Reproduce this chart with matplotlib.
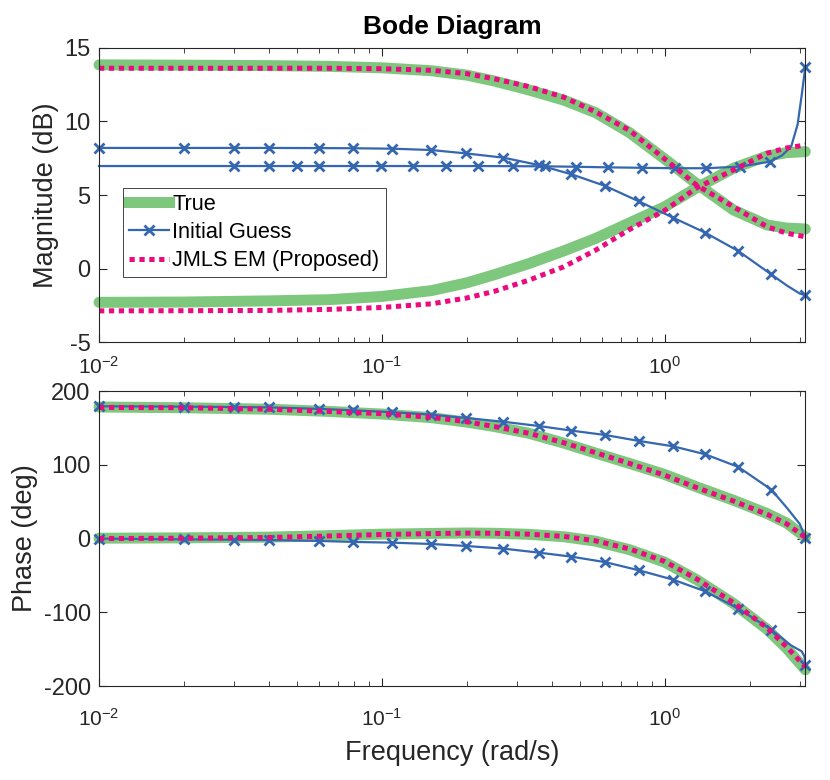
import numpy as np
import matplotlib
matplotlib.use("Agg")
import matplotlib.pyplot as plt
from matplotlib.lines import Line2D

plt.rcParams['font.family'] = ['Liberation Sans', 'DejaVu Sans']
plt.rcParams['mathtext.fontset'] = 'custom'
plt.rcParams['mathtext.rm'] = 'Liberation Sans'
plt.rcParams['mathtext.default'] = 'regular'
plt.rcParams['axes.unicode_minus'] = False

# ---- data ----
# smooth curves (True system and JMLS EM estimate)
w_fit = [0.01, 0.02, 0.04, 0.065, 0.1, 0.15, 0.2, 0.25, 0.33, 0.44, 0.57,
         0.75, 1.0, 1.3, 1.75, 2.3, 2.7, 3.1416]
mag_true_a = [13.85, 13.83, 13.8, 13.75, 13.65, 13.45, 13.15, 12.75, 12.15, 11.45, 10.6,
              9.25, 7.45, 5.75, 3.98, 2.96, 2.75, 2.69]
mag_true_b = [-2.3, -2.28, -2.2, -2.12, -1.9, -1.5, -0.97, -0.42, 0.33, 1.2, 2.05,
              3.1, 4.2, 5.5, 6.82, 7.65, 7.88, 7.95]
mag_em_a = [13.62, 13.62, 13.62, 13.62, 13.59, 13.48, 13.25, 12.9, 12.38, 11.65, 10.65,
            9.4, 7.45, 5.65, 4.2, 2.84, 2.4, 2.16]
mag_em_b = [-2.88, -2.87, -2.85, -2.78, -2.65, -2.4, -2.0, -1.55, -0.8, 0.12, 1.25,
            2.65, 3.95, 5.5, 6.7, 7.84, 8.2, 8.4]
ph_true_a = [178.5, 177.5, 175.5, 172.5, 169, 164, 158, 152, 143, 129.5, 116,
             102, 87, 70, 52, 34, 21, 2]
ph_true_b = [0.5, 1, 2, 4, 6, 7, 7.6, 7.2, 5.8, 2.5, -3.5,
             -15, -32, -56, -88, -123, -149, -178]
ph_em_a = [178, 177.5, 175.5, 172.5, 169.5, 164.5, 158.5, 152, 143, 130, 116.5,
           102, 86, 69, 51, 33, 20, 1.5]
ph_em_b = [0, 0.5, 1.5, 3.5, 5.5, 6.8, 7.4, 7.2, 6, 3, -3,
           -14, -31, -55, -87, -121, -147, -174]

# initial guess, first model
w_ig1 = [0.01, 0.02, 0.03, 0.04, 0.06, 0.079, 0.109, 0.149, 0.198, 0.269, 0.358,
         0.468, 0.617, 0.81, 1.07, 1.39, 1.82, 2.38, 2.7, 3.0, 3.1416]
mag_ig1 = [8.2, 8.2, 8.2, 8.2, 8.19, 8.18, 8.15, 8.06, 7.83, 7.54, 7.04,
           6.41, 5.61, 4.57, 3.46, 2.44, 1.19, -0.4, -1.15, -1.7, -1.82]
ph_ig1 = [179.5, 179, 178.5, 178, 176, 174, 171.5, 168.2, 163.7, 158.5, 152.8,
          146.5, 140.5, 132.5, 125.2, 114.4, 97.2, 66.5, 42, 20, 1.3]
ig1_marks = [0, 1, 2, 3, 4, 5, 6, 7, 8, 9, 10, 11, 12, 13, 14, 15, 16, 17, 20]

# initial guess, second model
w_ig2 = [0.01, 0.02, 0.03, 0.04, 0.05, 0.06, 0.079, 0.099, 0.129, 0.169, 0.219,
         0.29, 0.378, 0.487, 0.632, 0.83, 1.09, 1.40, 1.84, 2.36, 2.6, 2.8,
         2.95, 3.05, 3.1416]
mag_ig2 = [6.97, 6.97, 6.97, 6.97, 6.97, 6.97, 6.97, 6.97, 6.97, 6.97, 6.97,
           6.96, 6.95, 6.92, 6.88, 6.85, 6.82, 6.82, 6.93, 7.27, 7.7, 8.3,
           9.8, 11.8, 13.73]
ig2_marks = [2, 3, 4, 5, 6, 7, 8, 9, 10, 11, 12, 13, 14, 15, 16, 17, 18, 19, 24]

w_ig3 = [0.01, 0.02, 0.03, 0.04, 0.06, 0.079, 0.109, 0.149, 0.198, 0.269, 0.358,
         0.468, 0.617, 0.81, 1.07, 1.39, 1.82, 2.38, 2.8, 3.05, 3.12, 3.1416]
ph_ig3 = [0, -1, -1.5, -2, -3.2, -4.5, -5.5, -7.3, -10, -13.6, -19,
          -24.5, -32, -43, -55.7, -71.5, -95, -123.5, -145, -153, -160, -172]
ig3_marks = [0, 1, 2, 3, 4, 5, 6, 7, 8, 9, 10, 11, 12, 13, 14, 15, 16, 17, 21]

green = '#7EC87E'
blue = '#3567B0'
pink = '#EC0A80'
dark = '#262626'

fig = plt.figure(figsize=(8.3, 7.8), dpi=100)
ax1 = fig.add_axes([0.1193, 0.5615, 0.851, 0.377])
ax2 = fig.add_axes([0.1193, 0.1205, 0.851, 0.378])

true_kw = dict(color=green, lw=7.9, solid_capstyle='round', clip_on=False)
ig_kw = dict(color=blue, lw=1.6, marker='x', ms=7, mew=2.0, clip_on=False)
em_kw = dict(color=pink, lw=3.6, ls=(0, (1.05, 0.93)), clip_on=False)

# magnitude
ax1.plot(w_fit, mag_true_a, **true_kw)
ax1.plot(w_fit, mag_true_b, **true_kw)
ax1.plot(w_ig1, mag_ig1, markevery=ig1_marks, **ig_kw)
ax1.plot(w_ig2, mag_ig2, markevery=ig2_marks, **ig_kw)
ax1.plot(w_fit, mag_em_a, **em_kw)
ax1.plot(w_fit, mag_em_b, **em_kw)

# phase
ax2.plot(w_fit, ph_true_a, **true_kw)
ax2.plot(w_fit, ph_true_b, **true_kw)
ax2.plot(w_ig1, ph_ig1, markevery=ig1_marks, **ig_kw)
ax2.plot(w_ig3, ph_ig3, markevery=ig3_marks, **ig_kw)
ax2.plot(w_fit, ph_em_a, **em_kw)
ax2.plot(w_fit, ph_em_b, **em_kw)

for ax in (ax1, ax2):
    ax.set_xscale('log')
    ax.set_xlim(0.01, np.pi)
    ax.tick_params(which='both', direction='in', top=True, right=True,
                   colors=dark, pad=6)
    ax.tick_params(axis='x', labelsize=15)
    ax.tick_params(axis='y', labelsize=17)
    ax.tick_params(which='major', length=6, width=0.8)
    ax.tick_params(which='minor', length=3.5, width=0.6)
    for s in ax.spines.values():
        s.set_color(dark)
        s.set_linewidth(0.8)

ax1.tick_params(axis='x', which='both', pad=10)
ax2.tick_params(axis='x', which='both', pad=16)

ax1.set_ylim(-5, 15)
ax1.set_yticks([-5, 0, 5, 10, 15])
ax2.set_ylim(-200, 200)
ax2.set_yticks([-200, -100, 0, 100, 200])

ax1.set_ylabel('Magnitude (dB)', fontsize=19.5, color=dark, labelpad=4)
ax2.set_ylabel('Phase (deg)', fontsize=19.5, color=dark, labelpad=4)
ax2.set_xlabel('Frequency (rad/s)', fontsize=19.5, color=dark, labelpad=7)
ax1.set_title('Bode Diagram', fontsize=19, fontweight='bold', pad=10)

handles = [Line2D([], [], color=green, lw=7.9),
           Line2D([], [], color=blue, lw=1.6, marker='x', ms=7, mew=2.0),
           Line2D([], [], color=pink, lw=3.6, ls=(0, (1.05, 0.93)))]
leg = ax1.legend(handles, ['True', 'Initial Guess', 'JMLS EM (Proposed)'],
                 loc='upper left', bbox_to_anchor=(0.0335, 0.525),
                 fontsize=15.7, frameon=True, fancybox=False, framealpha=1,
                 edgecolor=dark, handlelength=1.85, handletextpad=0.15,
                 labelspacing=0.33, borderpad=0.28, borderaxespad=0)
leg.get_frame().set_linewidth(0.6)

fig.savefig('out.png', dpi=100)
